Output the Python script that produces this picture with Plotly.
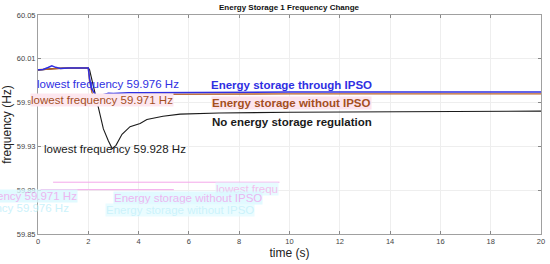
import plotly.graph_objects as go

# ---- data ----
t_ipso = [0, 0.2, 0.4, 0.55, 0.7, 0.9, 1.2, 1.6, 2.0, 2.05, 2.12, 2.2, 2.3, 2.45, 2.6, 2.8, 3.0, 3.3, 3.6, 4.0, 5, 6, 8, 10, 14, 20]
f_ipso = [60.0000, 60.0002, 60.0020, 60.0035, 60.0022, 60.0012, 60.0015, 60.0016, 60.0016, 59.9920, 59.9840,
          59.9800, 59.9770, 59.9762, 59.9775, 59.9785, 59.9784, 59.9788, 59.9790, 59.9790, 59.9792, 59.9794,
          59.9795, 59.9796, 59.9796, 59.9796]

t_noipso = [0, 0.5, 1, 2.0, 2.05, 2.15, 2.3, 2.45, 2.6, 2.8, 3.2, 4, 6, 10, 20]
f_noipso = [60.0000, 60.0010, 60.0014, 60.0016, 59.9900, 59.9790, 59.9730, 59.9712, 59.9740, 59.9760,
            59.9770, 59.9775, 59.9778, 59.9780, 59.9780]

t_none = [0, 0.3, 0.6, 1, 2.0, 2.05, 2.15, 2.3, 2.46, 2.6, 2.8, 2.95, 3.1, 3.34, 3.66, 4.06, 4.33, 4.97, 5.65, 7.2, 10, 14, 20]
f_none = [59.9997, 60.0005, 60.0010, 60.0015, 60.0015, 60.0000, 59.9900, 59.9760, 59.9580, 59.9460,
          59.9350, 59.9280, 59.9310, 59.9410, 59.9480, 59.9510, 59.9545, 59.9575, 59.9595, 59.9605,
          59.9612, 59.9618, 59.9622]

x_ticks = [0, 2, 4, 6, 8, 10, 12, 14, 16, 18, 20]
y_ticks = [59.85, 59.89, 59.93, 59.97, 60.01, 60.05]
y_tick_labels = ["59.85", "59.89", "59.93", "59.97", "60.01", "60.05"]

title_text = "Energy Storage 1 Frequency Change"
x_label = "time (s)"
y_label = "frequency (Hz)"
lbl_min_ipso = "lowest frequency 59.976 Hz"
lbl_min_noipso = "lowest frequency 59.971 Hz"
lbl_min_none = "lowest frequency 59.928 Hz"
lbl_ipso = "Energy storage through IPSO"
lbl_noipso = "Energy storage without IPSO"
lbl_none = "No energy storage regulation"

BLUE = "#2f2fe2"
BROWN_LINE = "#b9622b"
BROWN_TXT = "#a44f1e"
BLACK = "#1a1a1a"
FONT = "Liberation Sans, Arial, sans-serif"

X0, X1 = 0, 20
Y0, Y1 = 59.85, 60.05

fig = go.Figure()
fig.add_trace(go.Scatter(x=t_none, y=f_none, mode="lines", line=dict(color=BLACK, width=1.1), showlegend=False))
fig.add_trace(go.Scatter(x=t_noipso, y=f_noipso, mode="lines", line=dict(color=BROWN_LINE, width=1.4), showlegend=False))
fig.add_trace(go.Scatter(x=t_ipso, y=f_ipso, mode="lines", line=dict(color=BLUE, width=1.5), showlegend=False))

L, R, T, B = 38, 9, 15, 30
W, H = 550, 264
pw, ph = W - L - R, H - T - B

ann = []
def a(x, y, text, color, bold=False, bg=None, size=11.5, px=False, anchor="left", opacity=1):
    # px=True: x,y given in picture pixels; else data units -> always placed in paper coords
    if px:
        xp = (x - L) / pw
        yp = 1 - (y - T) / ph
    else:
        xp = (x - X0) / (X1 - X0)
        yp = (y - Y0) / (Y1 - Y0)
    ann.append(dict(x=xp, y=yp, xref="paper", yref="paper", text=("<b>%s</b>" % text) if bold else text,
                    showarrow=False, xanchor=anchor, yanchor="middle",
                    font=dict(family=FONT, size=size, color=color),
                    bgcolor=bg if bg else "rgba(0,0,0,0)", borderpad=0, opacity=opacity))

# faint ghost artifacts present in the reference
a(215, 189, "lowest frequ", "#f0b0ea", px=True, bg="#e2fbff", opacity=0.8)
a(113, 198, lbl_noipso, "#e8a4ee", px=True, bg="#daf9ff", opacity=0.8)
a(105, 210, lbl_noipso, "#bff0fb", px=True, bg="#e6fcff", opacity=0.8)
a(78, 196, lbl_min_noipso, "#e8a4ee", px=True, bg="#daf9ff", anchor="right", opacity=0.8)
a(70, 208, lbl_min_ipso, "#bff0fb", px=True, anchor="right", opacity=0.8)

a(-0.08, 59.9869, lbl_min_ipso, BLUE)
a(-0.32, 59.9723, lbl_min_noipso, BROWN_TXT, bg="#fde7ef")
a(0.19, 59.9275, lbl_min_none, BLACK)
a(6.82, 59.9860, lbl_ipso, BLUE, bold=True)
a(6.88, 59.9693, lbl_noipso, BROWN_TXT, bold=True, bg="#fde4ee")
a(6.88, 59.9519, lbl_none, BLACK, bold=True)

shapes = [
    dict(type="line", xref="x", yref="y", x0=0.6, x1=9.6, y0=59.8973, y1=59.8973,
         line=dict(color="#f4a8ea", width=1)),
    dict(type="line", xref="x", yref="y", x0=0.1, x1=5.4, y0=59.8905, y1=59.8905,
         line=dict(color="#f4a8ea", width=1)),
]

fig.update_layout(
    width=W, height=H,
    margin=dict(l=L, r=R, t=T, b=B, autoexpand=False),
    paper_bgcolor="white", plot_bgcolor="white",
    annotations=ann + [
        dict(text="<b>%s</b>" % title_text, x=0.5, y=1, xref="paper", yref="paper", yshift=8,
             showarrow=False, xanchor="center", yanchor="middle",
             font=dict(family=FONT, size=8, color="#111")),
    ],
    shapes=shapes,
    font=dict(family=FONT),
)
fig.update_xaxes(range=[X0, X1], tickvals=x_ticks, ticks="inside", ticklen=3, tickcolor="#888",
                 tickfont=dict(size=7.5, color="#444"), showgrid=True, gridcolor="#eeeeee",
                 showline=True, linecolor="#a0a0a0", linewidth=1, mirror="ticks", zeroline=False,
                 automargin=False,
                 title=dict(text=x_label, font=dict(size=12, color="#222"), standoff=2))
fig.update_yaxes(range=[Y0, Y1], tickvals=y_ticks, ticktext=y_tick_labels, ticks="inside",
                 ticklen=3, tickcolor="#888", tickfont=dict(size=7.5, color="#444"),
                 showgrid=True, gridcolor="#eeeeee", showline=True, linecolor="#a0a0a0", linewidth=1,
                 mirror="ticks", zeroline=False, automargin=False,
                 title=dict(text=y_label, font=dict(size=12, color="#222"), standoff=2))

fig.write_html("out.html", config={"displayModeBar": False},
               post_script="document.body.style.margin='0';document.body.style.overflow='hidden';")
